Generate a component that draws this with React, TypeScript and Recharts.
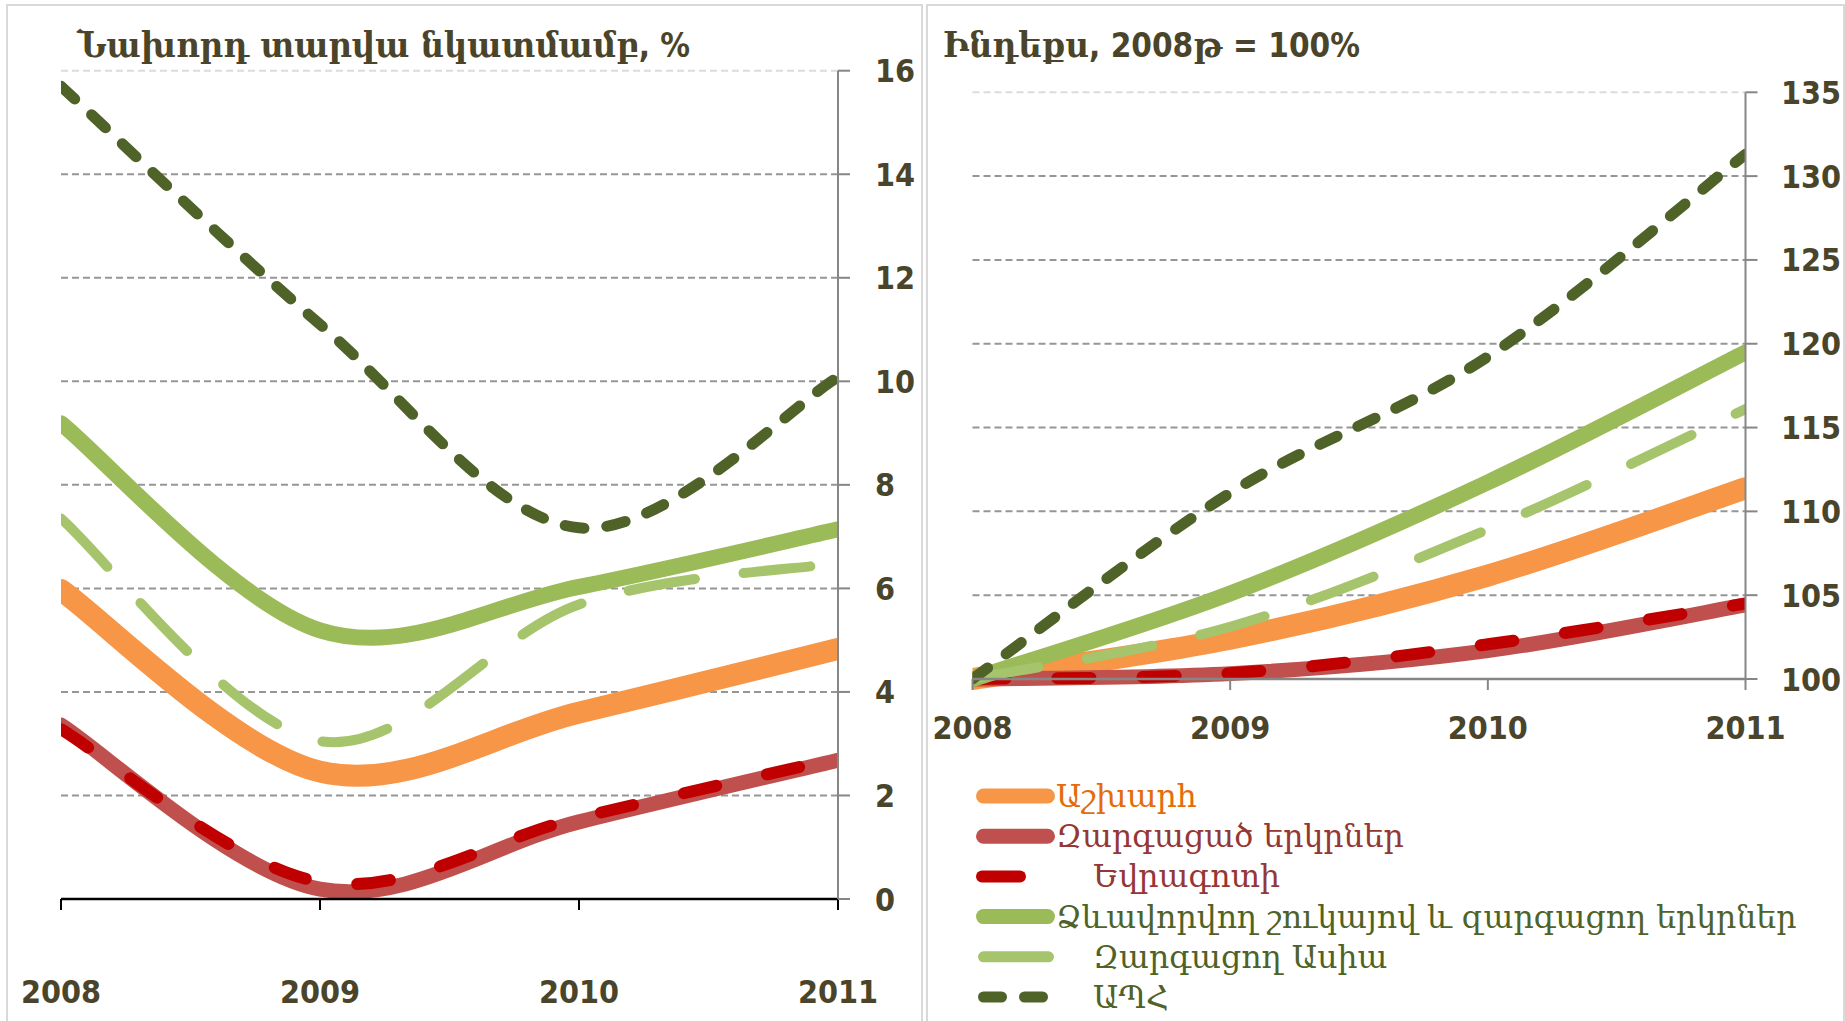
import React from 'react';
import { LineChart, Line, XAxis, YAxis, CartesianGrid, Legend } from 'recharts';

// ---------- data ----------
const years = [2008, 2009, 2010, 2011];

// Left panel: growth vs previous year, %
const growthWorld = [5.97, 2.46, 3.6, 4.83];
const growthAdvanced = [3.36, 0.19, 1.49, 2.68];
const growthEuro = [3.28, 0.33, 1.57, 2.72];
const growthEmerging = [9.19, 5.19, 6.03, 7.14];
const growthAsia = [7.35, 3.05, 5.69, 6.49];
const growthCIS = [15.7, 11.1, 7.17, 10.08];

// Right panel: index, 2008 = 100%
const indexWorld = [100, 102.4, 106.17, 111.38];
const indexAdvanced = [100, 100.32, 101.69, 104.42];
const indexEuro = [100, 100.34, 102.07, 104.5];
const indexEmerging = [100, 105.1, 111.73, 119.49];
const indexAsia = [100, 103.12, 108.93, 116.1];
const indexCIS = [100, 111.1, 119.23, 131.3];

const growthTicks = [0, 2, 4, 6, 8, 10, 12, 14, 16];
const indexTicks = [100, 105, 110, 115, 120, 125, 130, 135];

const seriesNames = [
  'Աշխարհ',
  'Զարգացած երկրներ',
  'Եվրագոտի',
  'Ձևավորվող շուկայով և զարգացող երկրներ',
  'Զարգացող Ասիա',
  'ԱՊՀ',
];

// ---------- styles ----------
const SERIES = [
  { key: 'world', color: '#F79646', width: 22, dash: undefined, text: '#E46C0A', icon: 'solid', indent: false },
  { key: 'advanced', color: '#C0504D', width: 15, dash: undefined, text: '#953735', icon: 'solid', indent: false },
  { key: 'euro', color: '#C00000', width: 12, dash: '33 52', text: '#953735', icon: 'short', indent: true },
  { key: 'emerging', color: '#9BBB59', width: 16, dash: undefined, text: '#4F6228', icon: 'solid', indent: false },
  { key: 'asia', color: '#A6C46C', width: 10, dash: '67 49', text: '#4F6228', icon: 'long', indent: true },
  { key: 'cis', color: '#4F6228', width: 11, dash: '19 23', text: '#4F6228', icon: 'double', indent: true },
];

const growthSeries = [growthWorld, growthAdvanced, growthEuro, growthEmerging, growthAsia, growthCIS];
const indexSeries = [indexWorld, indexAdvanced, indexEuro, indexEmerging, indexAsia, indexCIS];

const buildRows = (series: number[][]) =>
  years.map((year, i) => {
    const row: Record<string, number> = { year };
    SERIES.forEach((s, k) => {
      row[s.key] = series[k][i];
    });
    return row;
  });

const growthData = buildRows(growthSeries);
const indexData = buildRows(indexSeries);

const TEXT_COLOR = '#4A452A';
const NUM_FONT = "'DejaVu Sans Condensed', 'DejaVu Sans', sans-serif";
const ARM_FONT = "'DejaVu Serif', serif";

// Excel-like smoothed line (Bezier with Catmull-Rom control points)
const excelCurve: any = (context: any) => {
  let pts: number[][] = [];
  return {
    areaStart() {},
    areaEnd() {},
    lineStart() {
      pts = [];
    },
    point(x: number, y: number) {
      pts.push([+x, +y]);
    },
    lineEnd() {
      const n = pts.length;
      if (!n) return;
      context.moveTo(pts[0][0], pts[0][1]);
      for (let i = 0; i < n - 1; i++) {
        const p0 = pts[i > 0 ? i - 1 : i];
        const p1 = pts[i];
        const p2 = pts[i + 1];
        const p3 = pts[i + 2 < n ? i + 2 : i + 1];
        context.bezierCurveTo(
          p1[0] + (p2[0] - p0[0]) / 6,
          p1[1] + (p2[1] - p0[1]) / 6,
          p2[0] - (p3[0] - p1[0]) / 6,
          p2[1] - (p3[1] - p1[1]) / 6,
          p2[0],
          p2[1]
        );
      }
    },
  };
};

const gridLine = (topY: number) => (props: any) => {
  const { x1, y1, x2, y2, key } = props;
  const isTop = Math.abs(y1 - topY) < 1.5;
  return (
    <line
      key={key}
      x1={x1}
      y1={y1}
      x2={x2}
      y2={y2}
      stroke={isTop ? '#DCDCDC' : '#969696'}
      strokeWidth={2}
      strokeDasharray="7 4"
    />
  );
};

const NumTick = (props: any) => {
  const { x, y, payload, textAnchor } = props;
  return (
    <text
      x={x}
      y={y}
      dy="0.36em"
      textAnchor={textAnchor}
      fill={TEXT_COLOR}
      fontFamily={NUM_FONT}
      fontWeight="bold"
      fontSize={32}
    >
      {payload.value}
    </text>
  );
};

const LEGEND_ROW = 40.2;
const LegendBody = () => (
  <svg width={860} height={250} style={{ overflow: 'visible', display: 'block' }}>
    {SERIES.map((s, i) => {
      const cy = 12 + i * LEGEND_ROW;
      let icon: React.ReactNode = null;
      if (s.icon === 'solid') {
        icon = <line x1={7.5} x2={71.5} y1={cy} y2={cy} stroke={s.color} strokeWidth={15} strokeLinecap="round" />;
      } else if (s.icon === 'short') {
        icon = <line x1={6} x2={44} y1={cy} y2={cy} stroke={s.color} strokeWidth={12} strokeLinecap="round" />;
      } else if (s.icon === 'long') {
        icon = <line x1={7.5} x2={72.5} y1={cy} y2={cy} stroke={s.color} strokeWidth={11} strokeLinecap="round" />;
      } else {
        icon = (
          <g>
            <line x1={7.5} x2={25.5} y1={cy} y2={cy} stroke={s.color} strokeWidth={11} strokeLinecap="round" />
            <line x1={48.5} x2={66.5} y1={cy} y2={cy} stroke={s.color} strokeWidth={11} strokeLinecap="round" />
          </g>
        );
      }
      return (
        <g key={s.key}>
          {icon}
          <text
            x={s.indent ? 117 : 80}
            y={cy + 11}
            fill={s.text}
            fontFamily={ARM_FONT}
            fontSize={31.5}
          >
            {seriesNames[i]}
          </text>
        </g>
      );
    })}
  </svg>
);

const renderLines = () =>
  SERIES.map((s, k) => (
    <Line
      key={s.key}
      dataKey={s.key}
      name={seriesNames[k]}
      type={excelCurve}
      stroke={s.color}
      strokeWidth={s.width}
      strokeDasharray={s.dash}
      strokeLinecap="round"
      dot={false}
      activeDot={false}
      isAnimationActive={false}
    />
  ));

const LEFT_MARGIN = { top: 70.7, right: 23, bottom: 22, left: 61 };
const RIGHT_MARGIN = { top: 92.3, right: 29.5, bottom: 242, left: 52.5 };

export default function App() {
  return (
    <div
      style={{
        position: 'absolute',
        left: 0,
        top: 0,
        width: 1845,
        height: 1021,
        background: '#fff',
        overflow: 'hidden',
      }}
    >
      <div style={{ position: 'absolute', left: 6, top: 4, width: 913, height: 1040, border: '2px solid #D9D9D9' }} />
      <div style={{ position: 'absolute', left: 926, top: 4, width: 915, height: 1040, border: '2px solid #D9D9D9' }} />

      <div style={{ position: 'absolute', left: 0, top: 0 }}>
        <LineChart width={921} height={1021} data={growthData} margin={LEFT_MARGIN}>
          <CartesianGrid vertical={false} horizontal={gridLine(LEFT_MARGIN.top)} />
          <XAxis
            dataKey="year"
            type="number"
            domain={[2008, 2011]}
            ticks={years}
            allowDataOverflow
            height={100}
            axisLine={{ stroke: '#000', strokeWidth: 2.5 }}
            tickLine={{ stroke: '#000', strokeWidth: 2 }}
            tickSize={11}
            tickMargin={81.5}
            tick={<NumTick />}
          />
          <YAxis
            orientation="right"
            domain={[0, 16]}
            ticks={growthTicks}
            width={60}
            axisLine={{ stroke: '#868686', strokeWidth: 2 }}
            tickLine={{ stroke: '#868686', strokeWidth: 2 }}
            tickSize={12}
            tickMargin={25}
            tick={<NumTick />}
          />
          {renderLines()}
        </LineChart>
      </div>

      <div style={{ position: 'absolute', left: 920, top: 0 }}>
        <LineChart width={925} height={1021} data={indexData} margin={RIGHT_MARGIN}>
          <CartesianGrid vertical={false} horizontal={gridLine(RIGHT_MARGIN.top)} />
          <XAxis
            dataKey="year"
            type="number"
            domain={[2008, 2011]}
            ticks={years}
            allowDataOverflow
            height={100}
            axisLine={{ stroke: '#868686', strokeWidth: 2.5 }}
            tickLine={{ stroke: '#868686', strokeWidth: 2 }}
            tickSize={11}
            tickMargin={37}
            tick={<NumTick />}
          />
          <YAxis
            orientation="right"
            domain={[100, 135]}
            ticks={indexTicks}
            width={70}
            axisLine={{ stroke: '#868686', strokeWidth: 2 }}
            tickLine={{ stroke: '#868686', strokeWidth: 2 }}
            tickSize={12}
            tickMargin={23.5}
            tick={<NumTick />}
          />
          {renderLines()}
          <Legend
            layout="horizontal"
            verticalAlign="middle"
            align="center"
            wrapperStyle={{ left: 56, top: 783.5, width: 860, height: 250 }}
            content={() => <LegendBody />}
          />
        </LineChart>
      </div>

      <svg
        width={1845}
        height={100}
        style={{ position: 'absolute', left: 0, top: 0, pointerEvents: 'none' }}
      >
        <text x={77} y={57} fill={TEXT_COLOR} fontSize={36}>
          <tspan fontFamily={ARM_FONT} fontWeight="bold" style={{ fontStretch: 'condensed' }}>
            Նախորդ տարվա նկատմամբ
          </tspan>
          <tspan fontFamily={NUM_FONT} fontWeight="bold" fontSize={33}>
            , %
          </tspan>
        </text>
        <text x={943} y={57} fill={TEXT_COLOR} fontSize={36}>
          <tspan fontFamily={ARM_FONT} fontWeight="bold" style={{ fontStretch: 'condensed' }}>
            Ինդեքս
          </tspan>
          <tspan fontFamily={NUM_FONT} fontWeight="bold" fontSize={33}>
            , 2008
          </tspan>
          <tspan fontFamily={ARM_FONT} fontWeight="bold" style={{ fontStretch: 'condensed' }}>
            թ
          </tspan>
          <tspan fontFamily={NUM_FONT} fontWeight="bold" fontSize={33}>
            {' = 100%'}
          </tspan>
        </text>
      </svg>
    </div>
  );
}
